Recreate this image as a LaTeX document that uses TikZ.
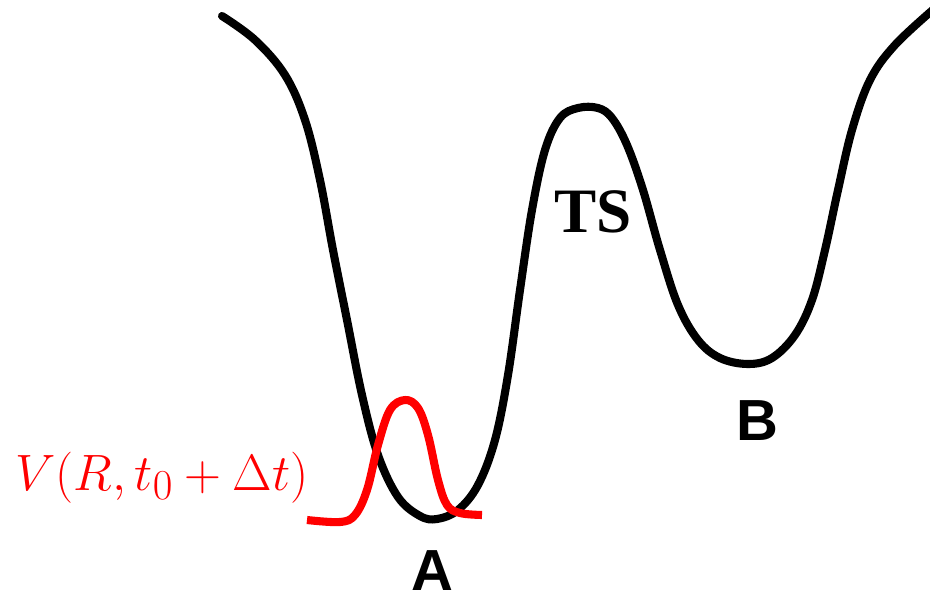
\documentclass[tikz,border=0pt]{standalone}
\usepackage{amsmath,amssymb}
\usepackage{fontspec}
\usepackage{xcolor}
\usepackage{graphicx}
\usepackage{tikz}
\usetikzlibrary{positioning}
\newfontfamily\timesbf{Liberation Serif}
\newfontfamily\arialbf{Liberation Sans}
\definecolor{wavered}{RGB}{255,0,0}

\begin{document}
\begin{tikzpicture}[x=0.02cm,y=-0.02cm]
  % potential energy surface with a wave packet in well A
  \tikzset{pes/.style={line width=4.6pt,black,line cap=round,line join=round},
           packet/.style={line width=4.6pt,wavered,line join=round},
           minlbl/.style={font=\arialbf\fontsize{33}{36}\selectfont\bfseries,inner sep=0pt},
           tslbl/.style={font=\timesbf\fontsize{36}{40}\selectfont\bfseries,inner sep=0pt}}
  \useasboundingbox (0,0) rectangle (930,601);
  \draw[pes] plot[smooth,tension=0.6] coordinates {(222,16) (255,40) (285,75) (305,120) (320,180)
    (333,250) (347,320) (362,395) (378,455) (398,497) (420,516) (437,519) (458,510) (478,485)
    (495,440) (508,375) (520,290) (532,210) (545,150) (560,118) (578,108) (598,108) (612,118)
    (627,145) (643,190) (660,250) (678,305) (698,340) (720,358) (748,364) (772,358) (795,335)
    (812,300) (825,250) (838,190) (852,130) (870,80) (895,45) (935,8)};
  \draw[packet] plot[smooth,tension=0.6] coordinates {(307,520) (340,522) (355,515) (367,490)
    (378,445) (390,410) (405,400) (418,408) (428,435) (438,480) (447,505) (460,513) (482,515)};
  \node[tslbl] (ts) at (593,212) {TS};
  \node[minlbl] (wa) at (432,571) {A};
  \node[minlbl] (wb) at (757,421) {B};
  \node[wavered,inner sep=0pt,anchor=base west,font=\Huge] (vlbl) at (15,490) {\scalebox{1.17}{$V(R,t_0+\Delta t)$}};
\end{tikzpicture}
\end{document}
